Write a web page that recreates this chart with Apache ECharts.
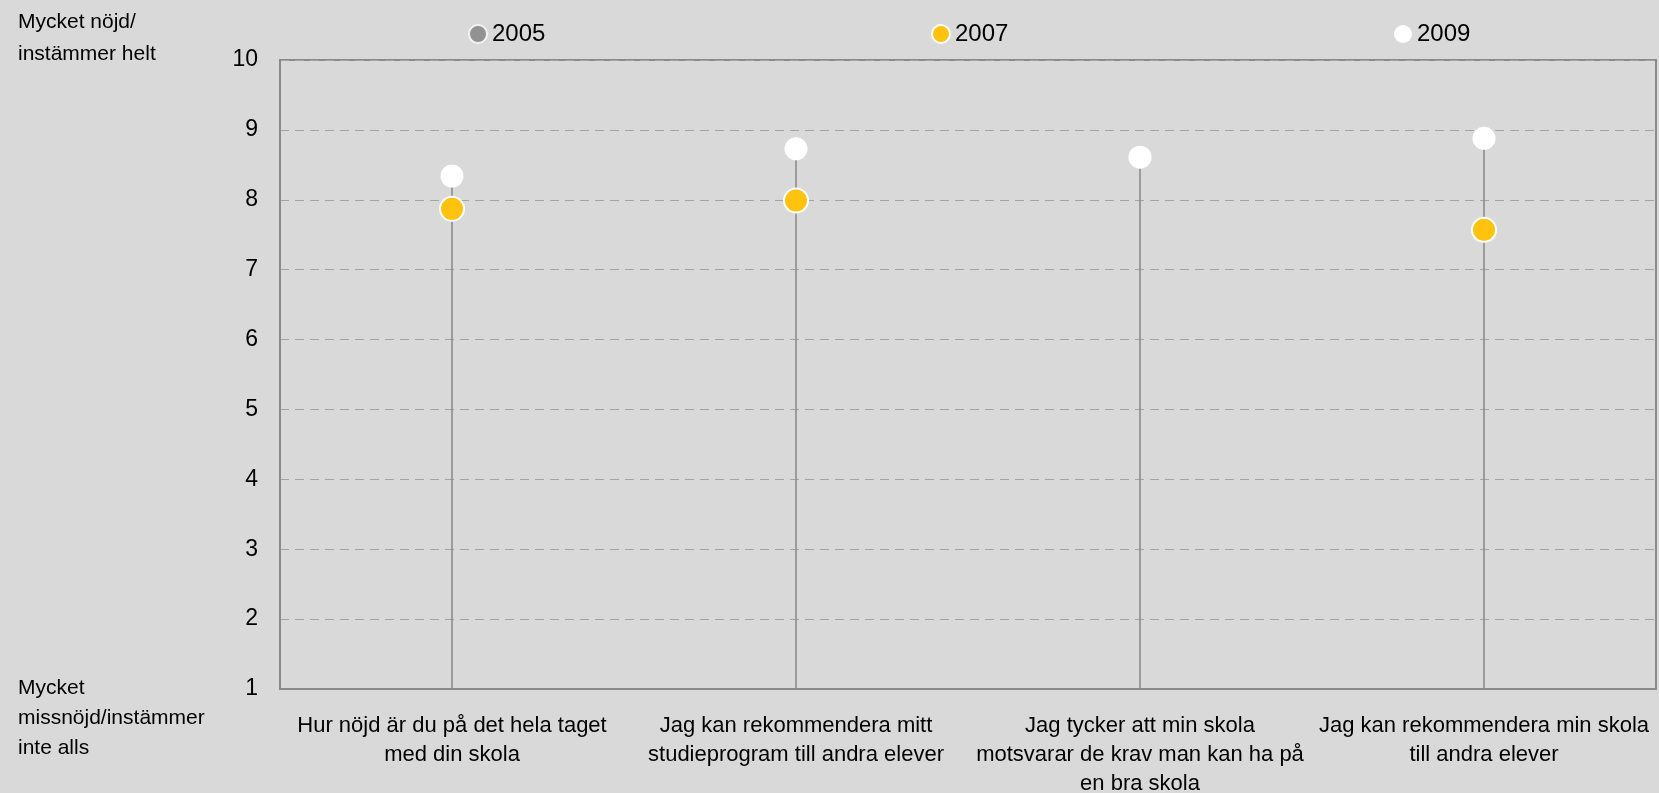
<!DOCTYPE html>
<html style="height: 100%">

<head>
    <meta charset="utf-8">
</head>

<body style="height: 100%; margin: 0; background: #d9d9d9">
    <div id="main" style="width: 1659px; height: 793px"></div>

    <script type="text/javascript" src="https://cdn.jsdelivr.net/npm/echarts@6/dist/echarts.min.js"></script>

    <script type="text/javascript">
        // data
        var categories = [
            'Hur nöjd är du på det hela taget\nmed din skola',
            'Jag kan rekommendera mitt\nstudieprogram till andra elever',
            'Jag tycker att min skola\nmotsvarar de krav man kan ha på\nen bra skola',
            'Jag kan rekommendera min skola\ntill andra elever'
        ];
        var years = ['2005', '2007', '2009'];
        var values2005 = [null, null, null, null];
        var values2007 = [7.87, 7.99, null, 7.57];
        var values2009 = [8.34, 8.73, 8.61, 8.88];
        var yTicks = [1, 2, 3, 4, 5, 6, 7, 8, 9, 10];

        var colors = ['#808080', '#ffc20e', '#ffffff'];
        var font = 'Liberation Sans, Arial, sans-serif';

        // drop line goes up to the highest point of each category
        var stems = categories.map(function (c, i) {
            var vals = [values2005[i], values2007[i], values2009[i]].filter(function (v) { return v != null; });
            return vals.length ? Math.max.apply(null, vals) : null;
        });

        var chart = echarts.init(document.getElementById('main'));

        var legendLeft = [463, 926, 1389];
        var legends = years.map(function (y, i) {
            return {
                data: [y],
                left: legendLeft[i],
                top: 17,
                itemWidth: 18,
                itemHeight: 18,
                itemGap: 4,
                icon: 'circle',
                textStyle: { fontSize: 24, fontFamily: font, color: '#000' }
            };
        });

        var option = {
            backgroundColor: '#d9d9d9',
            animation: false,
            legend: legends,
            grid: {
                left: 280,
                top: 60,
                right: 3,
                bottom: 104,
                outerBoundsMode: 'none',
                containLabel: false,
                show: true,
                borderColor: '#8a8a8a',
                borderWidth: 2,
                backgroundColor: 'transparent'
            },
            xAxis: {
                type: 'category',
                data: categories,
                axisTick: { show: false },
                axisLine: { lineStyle: { color: '#8a8a8a', width: 2 } },
                axisLabel: {
                    interval: 0,
                    margin: 22,
                    fontSize: 22,
                    lineHeight: 29,
                    fontFamily: font,
                    color: '#000'
                }
            },
            yAxis: {
                type: 'value',
                min: yTicks[0],
                max: yTicks[yTicks.length - 1],
                interval: 1,
                axisTick: { show: false },
                axisLine: { show: true, lineStyle: { color: '#8a8a8a', width: 2 } },
                axisLabel: { margin: 22, fontSize: 23, fontFamily: font, color: '#000' },
                splitLine: { lineStyle: { color: '#a3a3a3', type: [9, 6], width: 1 } }
            },
            graphic: [
                {
                    type: 'text', left: 18, top: 6,
                    style: { text: 'Mycket nöjd/\ninstämmer helt', font: '21px ' + font, lineHeight: 32, fill: '#000' }
                },
                {
                    type: 'text', left: 18, top: 673,
                    style: { text: 'Mycket\nmissnöjd/instämmer\ninte alls', font: '21px ' + font, lineHeight: 30, fill: '#000' }
                }
            ],
            series: [
                {
                    name: 'stem',
                    type: 'bar',
                    data: stems,
                    barWidth: 1.6,
                    itemStyle: { color: '#8c8c8c' },
                    silent: true,
                    z: 1
                },
                {
                    name: '2005',
                    type: 'scatter',
                    data: values2005,
                    symbolSize: 24,
                    itemStyle: { color: colors[0], borderColor: '#fff', borderWidth: 2 },
                    z: 3
                },
                {
                    name: '2007',
                    type: 'scatter',
                    data: values2007,
                    symbolSize: 24,
                    itemStyle: { color: colors[1], borderColor: '#fff', borderWidth: 2, opacity: 1 },
                    z: 4
                },
                {
                    name: '2009',
                    type: 'scatter',
                    data: values2009,
                    symbolSize: 23,
                    itemStyle: { color: colors[2], opacity: 1 },
                    z: 5
                }
            ]
        };

        chart.setOption(option);
    </script>
</body>

</html>
